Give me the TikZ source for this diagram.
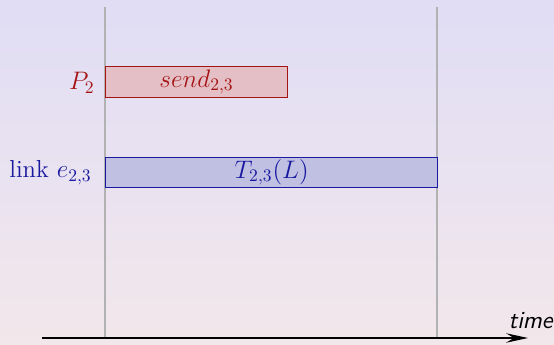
\documentclass[tikz,border=0pt]{standalone}
\usetikzlibrary{arrows.meta}
\definecolor{bgtop}{RGB}{224,221,245}
\definecolor{bgbot}{RGB}{242,231,235}
\definecolor{procred}{RGB}{165,20,20}
\definecolor{procfill}{RGB}{228,192,198}
\definecolor{linkblue}{RGB}{25,25,160}
\definecolor{linkfill}{RGB}{192,192,226}
\tikzset{
	proc/.style={draw=procred, fill=procfill, line width=0.6pt, inner sep=0pt, anchor=south west, minimum height=0.62cm, text=procred},
	link/.style={draw=linkblue, fill=linkfill, line width=0.8pt, inner sep=0pt, anchor=south west, minimum height=0.6cm, text=linkblue},
	mark line/.style={draw=black!30, line width=0.6pt}
}
\begin{document}
\begin{tikzpicture}[font=\fontsize{14}{16}\selectfont]

	\shade[top color=bgtop, bottom color=bgbot] (0, 0) rectangle (11.08, 6.9);
	\useasboundingbox (0, 0) rectangle (11.08, 6.9);

	\coordinate (s0) at (2.1, 6.76);
	\coordinate (s1) at (8.74, 6.76);
	\coordinate (e0) at (2.1, 0.14);
	\coordinate (e1) at (8.74, 0.14);
	\coordinate (t0) at (0.84, 0.14);
	\coordinate (t1) at (10.56, 0.14);

	\path[mark line]
	(s0) edge (e0)
	(s1) edge (e1);

	\node (send) [proc, minimum width=3.64cm] at (2.1, 4.94) {$send_{2,3}$};
	\node (trans) [link, minimum width=6.64cm] at (2.1, 3.14) {$T_{2,3}(L)$};

	\node (p2) [anchor=east, inner sep=0pt, text=procred] at (1.9, 5.25) {$P_2$};
	\node (e23) [anchor=east, inner sep=0pt, text=linkblue] at (1.84, 3.44) {link $e_{2,3}$};

	\draw[line width=0.7pt, -{Stealth[length=4.4mm, width=1.9mm, inset=1.6mm]}] (t0) -- (t1);
	\node (time) [anchor=base east, inner sep=0pt] at (11.06, 0.32) {\sffamily\itshape time};

\end{tikzpicture}
\end{document}
